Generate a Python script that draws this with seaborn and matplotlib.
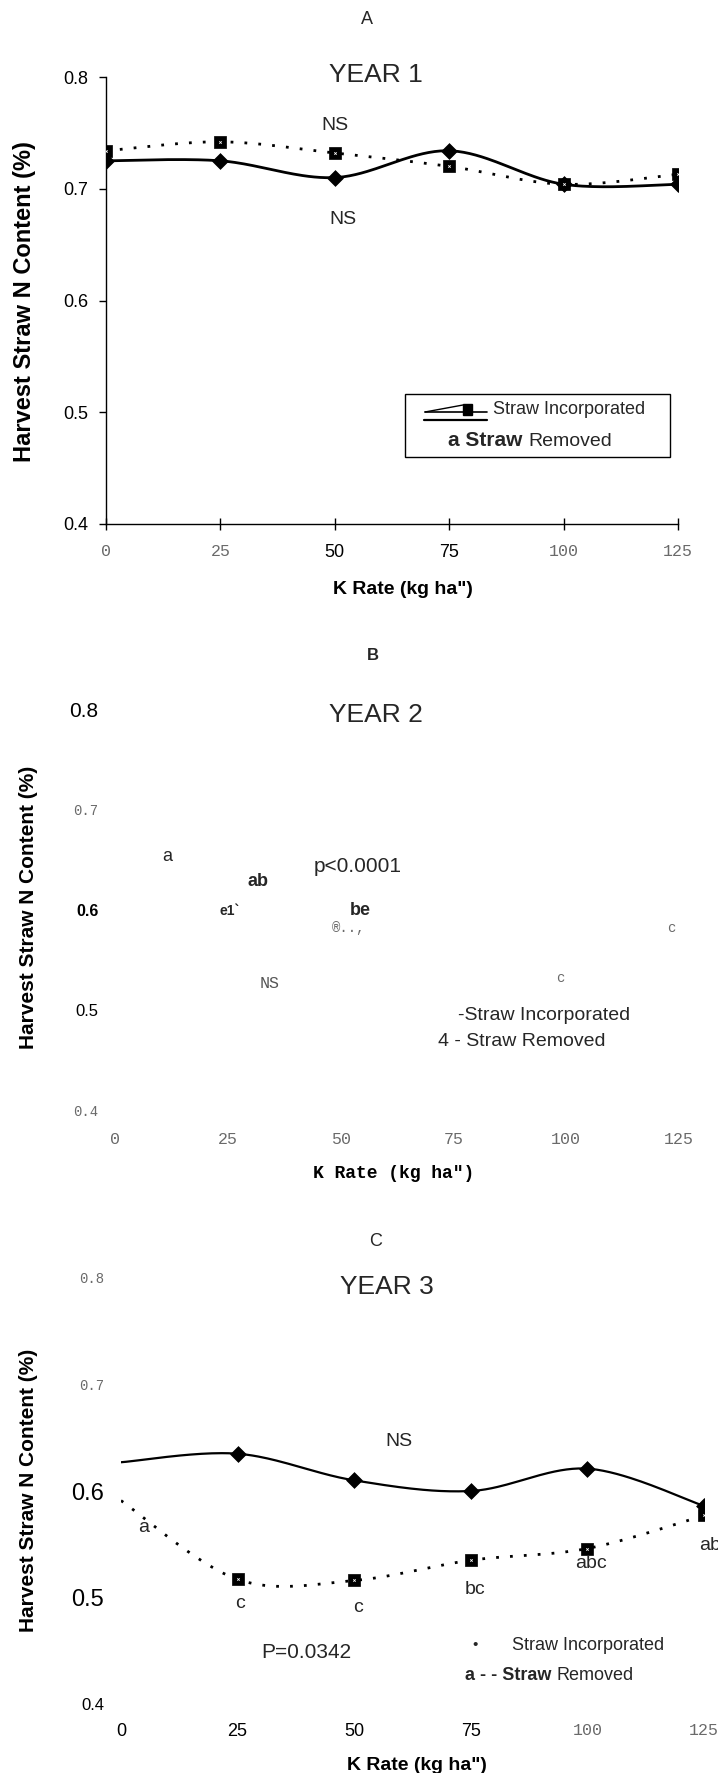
import numpy as np
import matplotlib
matplotlib.use('Agg')
import matplotlib.pyplot as plt
import seaborn as sns
from matplotlib import font_manager as fm
from matplotlib.patches import Rectangle
from matplotlib.lines import Line2D
from matplotlib.text import Annotation

sns.set_theme(style='white')
_names = {f.name for f in fm.fontManager.ttflist}
NARROW = 'Liberation Sans Narrow' if 'Liberation Sans Narrow' in _names else 'Liberation Sans'
SANS = 'Liberation Sans'
MONO = 'Liberation Mono'
plt.rcParams['font.family'] = [SANS, 'DejaVu Sans']

# ---------------- data ----------------
k_rate = [0, 25, 50, 75, 100, 125]
x_tick_labels = ['0', '25', '50', '75', '100', '125']
y_ticks = [0.4, 0.5, 0.6, 0.7, 0.8]
y_tick_labels = ['0.4', '0.5', '0.6', '0.7', '0.8']

year1_incorporated = [0.725, 0.725, 0.710, 0.734, 0.704, 0.704]
year1_removed = [0.734, 0.742, 0.732, 0.720, 0.704, 0.713]

year3_incorporated = [0.627, 0.635, 0.610, 0.600, 0.621, 0.586]
year3_removed = [0.591, 0.517, 0.516, 0.535, 0.546, 0.577]
year3_marker_rates = [25, 50, 75, 100, 125]

year_titles = ['YEAR 1', 'YEAR 2', 'YEAR 3']
panel_letters = ['A', 'B', 'C']
y_label = 'Harvest Straw N Content (%)'
x_label = 'K Rate (kg ha")'

# ---------------- layout ----------------
W, H, DPI = 718, 1773, 100
fig = plt.figure(figsize=(W / DPI, H / DPI), dpi=DPI)
fig.patch.set_facecolor('white')

boxA = (106, 678, 77, 524)
boxB = (115, 679, 709, 1111)
boxC = (121, 704, 1278, 1704)


def add_axes(box):
    x0, x1, yt, yb = box
    ax = fig.add_axes([x0 / W, 1 - yb / H, (x1 - x0) / W, (yb - yt) / H])
    ax.set_xlim(0, 125)
    ax.set_ylim(0.4, 0.8)
    ax.set_facecolor('none')
    ax.grid(False)
    return ax


def frac(box, px, py):
    x0, x1, yt, yb = box
    return (px - x0) / (x1 - x0), (yb - py) / (yb - yt)


def ftext(px, py, s, ha='center', va='center', **kw):
    return fig.text(px / W, 1 - py / H, s, ha=ha, va=va, **kw)


def smooth(x, y, n=40):
    P = np.column_stack([np.asarray(x, float), np.asarray(y, float)])
    Pe = np.vstack([P[0], P, P[-1]])
    t = np.linspace(0, 1, n)[:, None]
    segs = []
    for i in range(len(P) - 1):
        p0, p1, p2, p3 = Pe[i], Pe[i + 1], Pe[i + 2], Pe[i + 3]
        c1 = p1 + (p2 - p0) / 6
        c2 = p2 - (p3 - p1) / 6
        seg = (1 - t) ** 3 * p1 + 3 * (1 - t) ** 2 * t * c1 + 3 * (1 - t) * t ** 2 * c2 + t ** 3 * p2
        segs.append(seg if i == 0 else seg[1:])
    return np.vstack(segs)


def style_labels(labels, styles):
    for lab, st in zip(labels, styles):
        lab.set(**st)


mono = dict(family=MONO, color='#6a6a6a', size=12, weight='normal')
mono_s = dict(family=MONO, color='#6a6a6a', size=10, weight='normal')
narrow = dict(family=NARROW, color='black', size=13, weight='normal')


def square_markers(ax, xs, ys, s=70):
    sns.scatterplot(x=xs, y=ys, ax=ax, marker='s', s=s, color='black', edgecolor='black',
                    linewidth=0.5, zorder=4, legend=False)
    ax.scatter(xs, ys, marker='x', s=3, color='white', linewidths=0.6, zorder=5)


def diamond_markers(ax, xs, ys, s=65):
    sns.scatterplot(x=xs, y=ys, ax=ax, marker='D', s=s, color='black', edgecolor='black',
                    linewidth=0.5, zorder=4, legend=False)


# ================= Panel A =================
axA = add_axes(boxA)
for sp in ['top', 'right']:
    axA.spines[sp].set_visible(False)
for sp in ['left', 'bottom']:
    axA.spines[sp].set_visible(True)
    axA.spines[sp].set_color('black')
    axA.spines[sp].set_linewidth(1.0)

sm = smooth(k_rate, year1_removed)
sns.lineplot(x=sm[:, 0], y=sm[:, 1], ax=axA, sort=False, estimator=None, color='black',
             linewidth=2.0, linestyle=(0, (1, 4)), zorder=2)
sm = smooth(k_rate, year1_incorporated)
sns.lineplot(x=sm[:, 0], y=sm[:, 1], ax=axA, sort=False, estimator=None, color='black',
             linewidth=2.0, zorder=3)
diamond_markers(axA, k_rate, year1_incorporated)
square_markers(axA, k_rate, year1_removed)

axA.set_yticks(y_ticks, y_tick_labels)
axA.set_xticks(k_rate, x_tick_labels)
axA.tick_params(axis='y', left=True, direction='out', length=5, width=1, color='black', pad=8)
axA.tick_params(axis='x', bottom=True, direction='inout', length=9, width=1, color='black', pad=10)
style_labels(axA.get_yticklabels(), [narrow] * 5)
style_labels(axA.get_xticklabels(), [mono, mono, narrow, narrow, mono, mono])
axA.set_xlabel(x_label, fontsize=14, fontweight='bold', family=SANS, color='black')
axA.xaxis.set_label_coords(*frac(boxA, 403, 590))
axA.xaxis.label.set_va('center')
axA.set_ylabel(y_label, fontsize=17, fontweight='bold', family=SANS, color='black')
axA.yaxis.set_label_coords(*frac(boxA, 25, 302))
axA.yaxis.label.set_va('center')

ftext(367, 19, panel_letters[0], family=NARROW, size=13)
ftext(376, 75, year_titles[0], family=NARROW, size=19)
ftext(335, 126, 'NS', family=NARROW, size=14)
ftext(343, 219, 'NS', family=NARROW, size=14)

# legend box A
fig.add_artist(Rectangle((405 / W, 1 - 457 / H), 265 / W, 63 / H, transform=fig.transFigure,
                         facecolor='white', edgecolor='black', linewidth=1.0, zorder=6))
for (xa, ya, xb, yb, lw) in [(425, 412, 487, 412, 1.2), (425, 412, 463, 405, 1.0),
                             (424, 420, 487, 420, 1.6)]:
    fig.add_artist(Line2D([xa / W, xb / W], [1 - ya / H, 1 - yb / H], transform=fig.transFigure,
                          color='black', linewidth=lw, zorder=7))
fig.add_artist(Rectangle((463 / W, 1 - 415 / H), 9 / W, 11 / H, transform=fig.transFigure,
                         facecolor='black', edgecolor='black', zorder=7))
ftext(493, 410, 'Straw Incorporated', ha='left', family=NARROW, size=13, zorder=8)
t1 = ftext(448, 441, 'a Straw', ha='left', family=SANS, weight='bold', size=15, zorder=8)
fig.add_artist(Annotation('Removed', xy=(1, 0.5), xycoords=t1, xytext=(4, 0),
               textcoords='offset points', ha='left', va='center', family=NARROW, size=14, zorder=8))

# ================= Panel B =================
axB = add_axes(boxB)
sns.despine(ax=axB, left=True, bottom=True)
axB.set_yticks(y_ticks, y_tick_labels)
axB.set_xticks(k_rate, x_tick_labels)
axB.tick_params(axis='both', length=0)
axB.tick_params(axis='y', pad=12)
axB.tick_params(axis='x', pad=15)
style_labels(axB.get_yticklabels(), [
    mono_s,
    dict(family=NARROW, color='black', size=12, weight='normal'),
    dict(family=SANS, color='black', size=11.5, weight='bold'),
    mono_s,
    dict(family=NARROW, color='black', size=15, weight='normal'),
])
style_labels(axB.get_xticklabels(), [mono] * 6)
axB.set_xlabel(x_label, fontsize=13, fontweight='bold', family=MONO, color='black')
axB.xaxis.set_label_coords(*frac(boxB, 394, 1174))
axB.xaxis.label.set_va('center')
axB.set_ylabel(y_label, fontsize=15, fontweight='bold', family=SANS, color='black')
axB.yaxis.set_label_coords(*frac(boxB, 29, 907))
axB.yaxis.label.set_va('center')

ftext(373, 656, panel_letters[1], family=SANS, weight='bold', size=12)
ftext(376, 715, year_titles[1], family=NARROW, size=19)
ftext(167, 856, 'a', family=NARROW, size=13)
ftext(258, 881, 'ab', family=SANS, weight='bold', size=13)
ftext(358, 866, 'p<0.0001', family=NARROW, size=15)
ftext(230, 911, 'e1`', family=NARROW, weight='bold', size=10)
ftext(360, 910, 'be', family=SANS, weight='bold', size=13)
ftext(349, 928, '®..,', family=MONO, color='#6a6a6a', size=10)
ftext(671, 928, 'c', family=MONO, color='#6a6a6a', size=10)
ftext(270, 984, 'NS', family=MONO, color='#555555', size=12)
ftext(560, 978, 'c', family=MONO, color='#6a6a6a', size=10)
ftext(458, 1015, '-Straw Incorporated', ha='left', family=NARROW, size=14)
ftext(438, 1041, '4 - Straw Removed', ha='left', family=NARROW, size=14)

# ================= Panel C =================
axC = add_axes(boxC)
sns.despine(ax=axC, left=True, bottom=True)
sm = smooth(k_rate, year3_removed)
sns.lineplot(x=sm[:, 0], y=sm[:, 1], ax=axC, sort=False, estimator=None, color='black',
             linewidth=2.0, linestyle=(0, (1, 4)), zorder=2)
sm = smooth(k_rate, year3_incorporated)
sns.lineplot(x=sm[:, 0], y=sm[:, 1], ax=axC, sort=False, estimator=None, color='black',
             linewidth=1.6, zorder=3)
diamond_markers(axC, year3_marker_rates, year3_incorporated[1:])
square_markers(axC, year3_marker_rates, year3_removed[1:])

axC.set_yticks(y_ticks, y_tick_labels)
axC.set_xticks(k_rate, x_tick_labels)
axC.tick_params(axis='both', length=0)
axC.tick_params(axis='y', pad=12)
axC.tick_params(axis='x', pad=14)
style_labels(axC.get_yticklabels(), [
    dict(family=NARROW, color='black', size=12, weight='normal'),
    dict(family=NARROW, color='black', size=17, weight='normal'),
    dict(family=NARROW, color='black', size=17, weight='normal'),
    mono_s,
    mono_s,
])
style_labels(axC.get_xticklabels(), [narrow, narrow, narrow, narrow, mono, mono])
axC.set_xlabel(x_label, fontsize=14, fontweight='bold', family=SANS, color='black')
axC.xaxis.set_label_coords(*frac(boxC, 417, 1766))
axC.xaxis.label.set_va('center')
axC.set_ylabel(y_label, fontsize=15, fontweight='bold', family=SANS, color='black')
axC.yaxis.set_label_coords(*frac(boxC, 29, 1490))
axC.yaxis.label.set_va('center')

ftext(376, 1241, panel_letters[2], family=NARROW, size=13)
ftext(387, 1287, year_titles[2], family=NARROW, size=19)
ftext(399, 1442, 'NS', family=NARROW, size=14)
ftext(144, 1527, 'a', family=NARROW, size=14)
ftext(240, 1603, 'c', family=NARROW, size=14)
ftext(358, 1607, 'c', family=NARROW, size=14)
ftext(475, 1589, 'bc', family=NARROW, size=14)
ftext(591, 1564, 'abc', family=NARROW, size=14)
ftext(710, 1546, 'ab', family=NARROW, size=14)
ftext(306, 1652, 'P=0.0342', family=NARROW, size=15)
ftext(475, 1645, '•', family=SANS, size=11)
ftext(512, 1645, 'Straw Incorporated', ha='left', family=NARROW, size=13)
t2 = ftext(465, 1676, 'a - - Straw', ha='left', family=SANS, weight='bold', size=13)
fig.add_artist(Annotation('Removed', xy=(1, 0.5), xycoords=t2, xytext=(4, 0),
               textcoords='offset points', ha='left', va='center', family=NARROW, size=13))

fig.savefig('out.png', dpi=DPI, facecolor='white')
